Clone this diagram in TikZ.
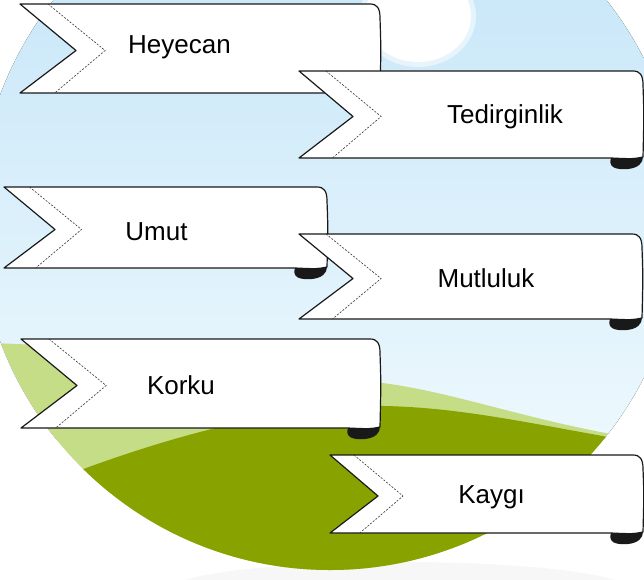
\documentclass[tikz,border=0pt]{standalone}
\usepackage{fontspec}
\setmainfont{Liberation Sans}
\definecolor{sky}{RGB}{203,232,249}
\definecolor{skylow}{RGB}{236,248,253}
\definecolor{hill}{RGB}{196,221,134}
\definecolor{grass}{RGB}{136,162,0}
\begin{document}
\begin{tikzpicture}[x=1pt,y=-1pt,
    edge/.style={draw=black!90,line width=1.2pt,line join=round},
    fold/.style={draw=black!80,line width=0.6pt,dash pattern=on 2pt off 1.5pt},
    word/.style={font=\fontsize{26}{30}\selectfont,anchor=base,inner sep=0pt}]
    \useasboundingbox (0,0) rectangle (644,579);
    \fill[white] (0,0) rectangle (644,579);
    \fill[black!3] (400,590) ellipse (230pt and 28pt);
    \begin{scope}
        \clip (330,218) circle (352pt);
        \fill[top color=sky,bottom color=skylow] (0,0) rectangle (644,440);
        \fill[white,opacity=.5] (418,16) ellipse (58pt and 51pt);
        \fill[white] (418,16) ellipse (53pt and 46pt);
        \fill[hill] (-10,343) .. controls (150,348) and (300,372) .. (390,384) .. controls (470,396) and (540,425) .. (660,442) -- (660,600) -- (-10,600) -- cycle;
        \fill[grass] (70,474) .. controls (160,440) and (280,404) .. (385,406) .. controls (470,408) and (540,426) .. (660,446) -- (660,600) -- (-10,600) -- cycle;
    \end{scope}
    \foreach \xa/\yt/\yb/\xr/\nd/\name/\txt/\cx/\by in {
        20/4/93/380/56/heyecan/Heyecan/179.5/53,
        299/71/158/643/54/tedirginlik/Tedirginlik/505/123,
        4/187/268/327/51/umut/Umut/156.5/240,
        299/234/319/642/54/mutluluk/Mutluluk/486/287,
        21/339/428/380/56/korku/Korku/181/394,
        330/455/533/643/48/kaygi/Kaygı/491.5/503}{
        \path[edge,fill=white] (\xa,\yt) -- (\xr-10,\yt) .. controls (\xr-3,\yt) and (\xr,\yt+4) .. (\xr,\yt+14)
            .. controls (\xr+1,{(\yt+\yb)/2}) .. (\xr,\yb-1) .. controls (\xr-10,\yb+1) .. (\xr-32,\yb)
            -- (\xa,\yb) -- ({\xa+\nd},{(\yt+\yb)/2+2}) -- cycle;
        \fill[black!90] (\xr-32,\yb) .. controls (\xr-35,\yb+9) and (\xr-28,\yb+12) .. (\xr-15,\yb+11)
            .. controls (\xr-5,\yb+10) and (\xr,\yb+5) .. (\xr,\yb-1) .. controls (\xr-10,\yb+1) .. (\xr-32,\yb) -- cycle;
        \draw[fold] ({\xa+0.5*\nd},\yt) -- ({\xa+1.52*\nd},{(\yt+\yb)/2+2}) -- ({\xa+0.62*\nd},\yb);
        \node[word] (\name) at (\cx,\by) {\txt};
    }
\end{tikzpicture}
\end{document}
